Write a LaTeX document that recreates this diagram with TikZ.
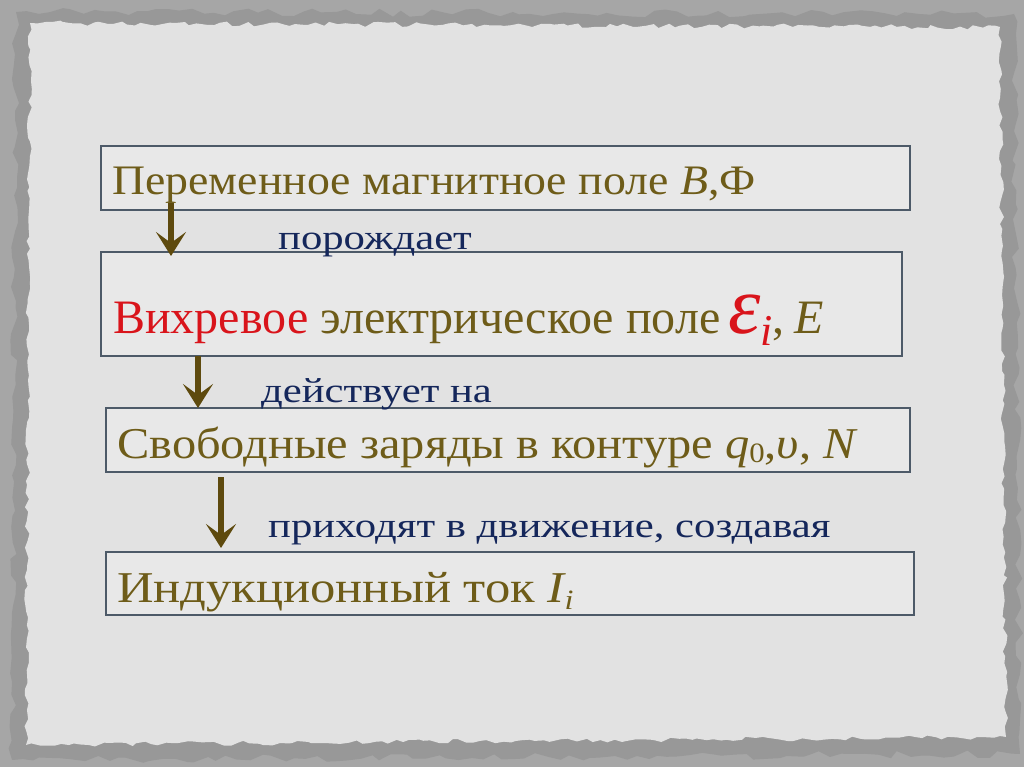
\documentclass[tikz,border=0pt]{standalone}
\usepackage{fontspec}
\setmainfont{Liberation Serif}
\newfontfamily\onefont[FakeStretch=1.09]{Liberation Serif}
\newfontfamily\twofont[FakeStretch=1.0]{Liberation Serif}
\newfontfamily\threefont[FakeStretch=1.10]{Liberation Serif}
\newfontfamily\fourfont[FakeStretch=1.15]{Liberation Serif}
\newfontfamily\labfont[FakeStretch=1.22]{Liberation Serif}
\usetikzlibrary{arrows.meta,decorations.pathmorphing}
\definecolor{olivetxt}{HTML}{6E5C19}
\definecolor{arrowcol}{HTML}{5E4A0E}
\definecolor{navytxt}{HTML}{15275B}
\definecolor{redtxt}{HTML}{D9141B}
\definecolor{boxline}{HTML}{4D5A68}
\definecolor{outergray}{HTML}{A6A6A6}
\definecolor{shadowgray}{HTML}{989898}
\definecolor{paper}{HTML}{E2E2E2}
\tikzset{
  framebox/.style={draw=boxline, line width=1.2pt, fill=white, fill opacity=0.22, text opacity=1},
  maintext/.style={anchor=base west, inner sep=0pt, text=olivetxt},
  labeltext/.style={anchor=base west, inner sep=0pt, text=navytxt, font=\labfont\fontsize{35}{35}\selectfont},
  flowarrow/.style={draw=arrowcol, line width=5.5pt, -{Stealth[length=24pt,width=30pt,inset=11pt]}}
}
\begin{document}
\begin{tikzpicture}[x=1pt,y=-1pt]
\useasboundingbox (0,0) rectangle (1024,767);
% background
\fill[outergray] (0,0) rectangle (1024,767);
\pgfmathsetseed{7}
\fill[shadowgray, decorate, decoration={random steps, segment length=11pt, amplitude=4pt}]
  (16,12) -- (1014,14) -- (1020,754) -- (12,760) -- cycle;
\fill[paper, decorate, decoration={random steps, segment length=7pt, amplitude=2.5pt}]
  (30,23) -- (1000,27) -- (1006,737) -- (26,745) -- cycle;
% boxes
\path[framebox] (101,146) rectangle (910,210);
\path[framebox] (101,252) rectangle (902,356);
\path[framebox] (106,408) rectangle (910,472);
\path[framebox] (106,552) rectangle (914,615);
% arrow end points
\coordinate (b1) at (171,203);
\coordinate (b2) at (171,256);
\coordinate (c1) at (198,356);
\coordinate (c2) at (198,408);
\coordinate (d1) at (221,477);
\coordinate (d2) at (221,548);
% texts
\node[maintext, font=\onefont\fontsize{42}{42}\selectfont] (t1) at (112,195)
  {Переменное магнитное поле \textit{B},Ф};
\node[maintext, font=\twofont\fontsize{48}{48}\selectfont] (t2) at (113,333)
  {\textcolor{redtxt}{Вихревое} электрическое поле\hspace{8pt}\textcolor{redtxt}{{\fontsize{82}{82}\selectfont\textit{ε}}\raisebox{-12pt}{\fontsize{44}{44}\selectfont\textit{i}}},\hspace{10pt}\textit{E}};
\node[maintext, font=\threefont\fontsize{44}{44}\selectfont] (t3) at (117,458)
  {Свободные заряды в контуре \textit{q}\raisebox{-4pt}{\fontsize{28}{28}\selectfont 0},\textit{υ}, \textit{N}};
\node[maintext, font=\fourfont\fontsize{44}{44}\selectfont] (t4) at (117,602)
  {Индукционный ток \textit{I}\hspace{-2pt}\raisebox{-7pt}{\fontsize{28}{28}\selectfont\textit{i}}};
% labels
\node[labeltext] (l1) at (278,249) {порождает};
\node[labeltext] (l2) at (261,402) {действует на};
\node[labeltext] (l3) at (268,537) {приходят в движение, создавая};
% arrows
\draw[flowarrow] (b1) -- (b2);
\draw[flowarrow] (c1) -- (c2);
\draw[flowarrow] (d1) -- (d2);
\end{tikzpicture}
\end{document}
